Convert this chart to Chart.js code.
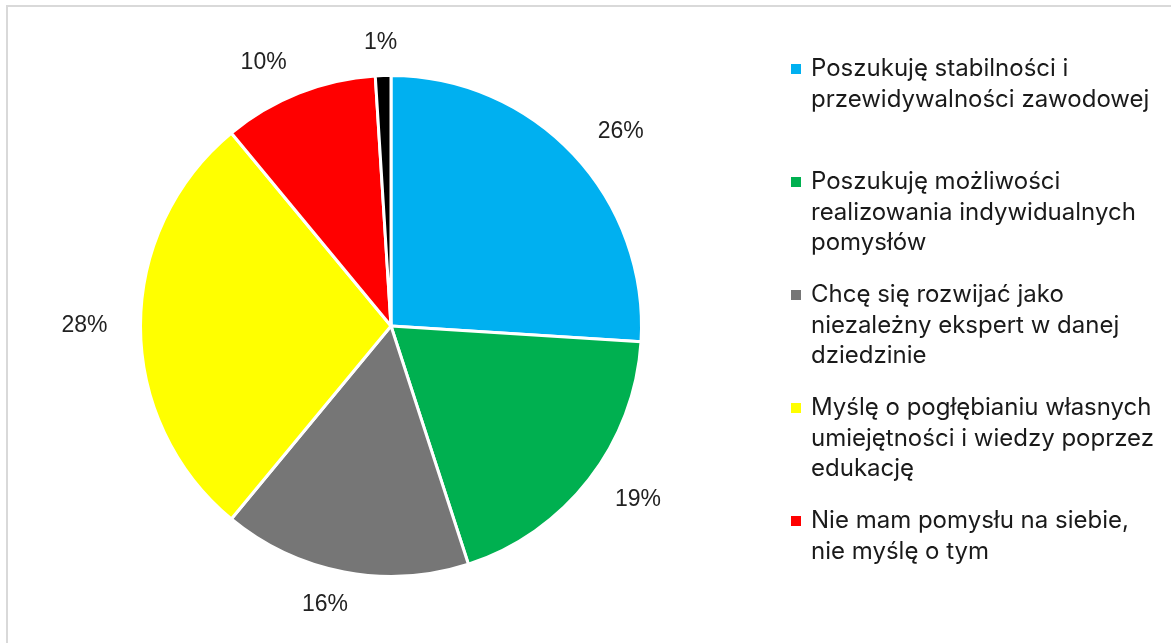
<!DOCTYPE html>
<html>
<head>
<meta charset="utf-8">
<script src="https://cdn.jsdelivr.net/npm/chart.js@4.4.1/dist/chart.umd.min.js"></script>
<style>
  body { margin: 0; background: #fff; }
  .frame { position: absolute; left: 6px; top: 5px; width: 1200px; height: 700px; border: 2px solid #d9d9d9; box-sizing: border-box; }
  .chart { position: absolute; left: 0; top: 0; width: 1171px; height: 643px; }
</style>
</head>
<body>
<div class="frame"></div>
<div class="chart">
  <canvas id="pie_chart" width="1171" height="643"></canvas>
</div>
<script>
// categories (wrapped as in the legend)
const labels_ = [
  ['Poszukuję stabilności i', 'przewidywalności zawodowej'],
  ['Poszukuję możliwości', 'realizowania indywidualnych', 'pomysłów'],
  ['Chcę się rozwijać jako', 'niezależny ekspert w danej', 'dziedzinie'],
  ['Myślę o pogłębianiu własnych', 'umiejętności i wiedzy poprzez', 'edukację'],
  ['Nie mam pomysłu na siebie,', 'nie myślę o tym'],
  ['Inne']
];
// percent shares
const values_ = [26, 19, 16, 28, 10, 1];
const colors_ = ['#00B0F0', '#00B050', '#767676', '#FFFF00', '#FF0000', '#000000'];
// how many entries the legend shows
const legendCount = 5;

// percent labels outside the slices
const outsideLabels = {
  id: 'outsideLabels',
  afterDatasetsDraw(chart) {
    const ctx = chart.ctx;
    const meta = chart.getDatasetMeta(0);
    ctx.save();
    ctx.font = '23px "Liberation Sans", Arial, sans-serif';
    ctx.fillStyle = '#222';
    ctx.textAlign = 'center';
    ctx.textBaseline = 'middle';
    meta.data.forEach((arc, i) => {
      const p = arc.getProps(['x', 'y', 'startAngle', 'endAngle', 'outerRadius'], true);
      const mid = (p.startAngle + p.endAngle) / 2;
      const txt = values_[i] + '%';
      const w = ctx.measureText(txt).width, h = 22;
      const dx = Math.cos(mid), dy = Math.sin(mid);
      const ox = dx * (p.outerRadius + 33) + Math.sign(dx) * Math.min(1, Math.abs(dx) * 3) * w / 2;
      const oy = dy * (p.outerRadius + 22) + dy * h / 2;
      ctx.fillText(txt, p.x + ox, p.y + oy);
    });
    ctx.restore();
  }
};

// legend on the right, multi-line entries
const sideLegend = {
  id: 'sideLegend',
  afterDraw(chart) {
    const ctx = chart.ctx;
    const x0 = 791, y0 = 69, pitch = 113, lineH = 30.5;
    ctx.save();
    ctx.font = '24px Inter, "Open Sans", sans-serif';
    ctx.textBaseline = 'middle';
    ctx.textAlign = 'left';
    for (let i = 0; i < legendCount; i++) {
      const y = y0 + i * pitch;
      ctx.fillStyle = colors_[i];
      ctx.fillRect(x0, y - 5, 10, 10);
      ctx.fillStyle = '#1a1a1a';
      labels_[i].forEach((line, j) => {
        ctx.fillText(line, x0 + 20, y + j * lineH);
      });
    }
    ctx.restore();
  }
};

new Chart(document.getElementById('pie_chart'), {
  type: 'pie',
  data: {
    labels: labels_.map(l => l.join(' ')),
    datasets: [{
      data: values_,
      backgroundColor: colors_,
      borderColor: '#ffffff',
      borderWidth: 3
    }]
  },
  options: {
    responsive: false,
    animation: false,
    layout: {
      padding: { left: 139, right: 528, top: 74, bottom: 65 }
    },
    plugins: {
      legend: { display: false },
      tooltip: { enabled: false }
    }
  },
  plugins: [outsideLabels, sideLegend]
});
</script>
</body>
</html>
